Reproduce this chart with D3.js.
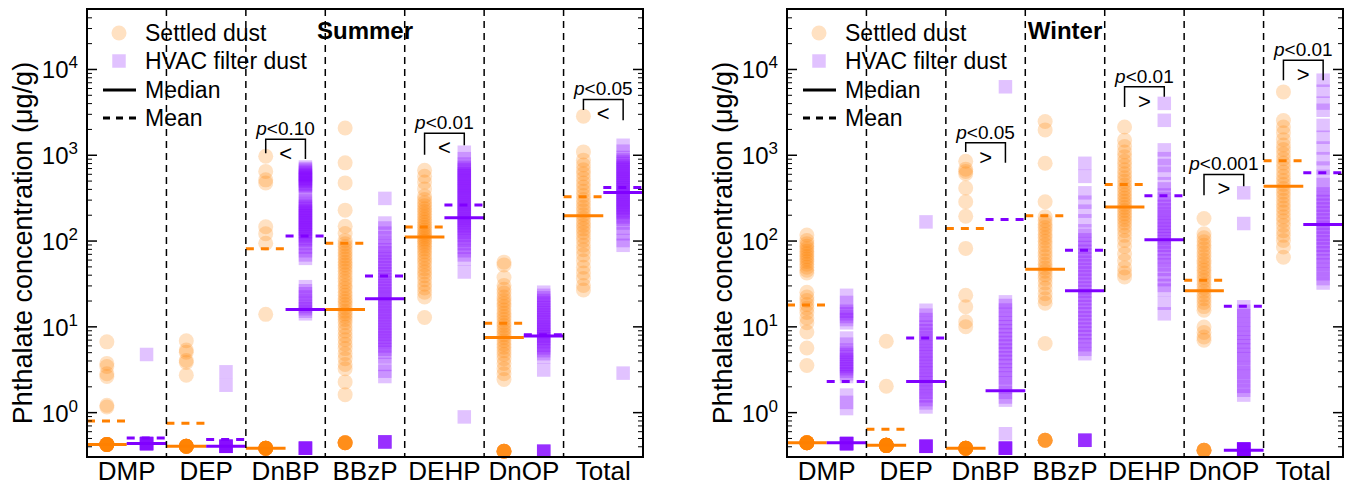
<!DOCTYPE html>
<html>
<head>
<meta charset="utf-8">
<script src="https://cdn.jsdelivr.net/npm/d3@7"></script>
<style>
  body { margin: 0; background: #fff; }
  text { font-family: "Liberation Sans", Arial, sans-serif; }
</style>
</head>
<body>
<div id="chart"></div>
<script>
// Phthalates in settled dust vs HVAC filter dust, summer and winter
const compounds = ["DMP", "DEP", "DnBP", "BBzP", "DEHP", "DnOP", "Total"];
const majorTicks = [1, 10, 100, 1000, 10000];

// detected concentrations (ug/g), one list per compound in the order above
const summerSettled = [
  [6.6, 3.7, 3.4, 2.8, 2.6, 1.2, 1.15],
  [6.8, 5.3, 5.0, 4.0, 3.8, 2.7],
  [960, 640, 510, 470, 145, 120, 93, 13.8],
  [2050, 805, 470, 226, 147, 121, 100, 92, 85, 78, 72, 66, 61, 56, 52, 48, 44, 40, 36, 33, 30, 27.5, 25, 23, 21, 19.5, 18, 16.5, 15, 14, 13, 12, 11, 9.8, 8.8, 7.8, 7.0, 6.2, 5.5, 4.8, 4.2, 3.6, 3.2, 2.25, 1.6],
  [661, 560, 480, 400, 330, 300, 275, 255, 235, 218, 202, 188, 175, 163, 152, 142, 133, 125, 118, 111, 104, 98, 92, 86, 80, 74, 68, 62, 57, 52, 47, 43, 39, 35, 31, 28, 25, 22, 12.7],
  [56, 52, 37, 30, 27, 24.5, 22, 20, 18.5, 17, 15.5, 14.2, 13, 12, 11, 10.2, 9.4, 8.7, 8, 7.4, 6.8, 6.2, 5.7, 5.2, 4.7, 4.2, 3.7, 3.2, 2.8, 2.4],
  [2820, 1080, 865, 760, 670, 600, 530, 470, 420, 375, 335, 300, 270, 245, 222, 200, 182, 165, 150, 137, 124, 112, 100, 88, 78, 68, 58, 49, 42, 36, 30, 26.5]
];
const summerHvac = [
  [4.7],
  [2.95, 2.06],
  [720, 690, 665, 640, 615, 590, 570, 550, 530, 510, 490, 470, 455, 440, 425, 380, 330, 290, 270, 258, 246, 235, 224, 214, 204, 195, 186, 178, 170, 162, 155, 148, 141, 135, 129, 123, 117, 111, 105, 100, 92, 84, 76, 68, 62, 29, 26, 24, 22, 20, 18.5, 17, 16, 15, 14],
  [310, 160, 140, 122, 108, 96, 86, 78, 72, 66, 61, 56, 52, 48, 44, 41, 38, 35, 32.5, 30, 28, 26, 24, 22.5, 21, 19.5, 18, 16.8, 15.6, 14.5, 13.5, 12.5, 11.6, 10.8, 10, 9.3, 8.6, 8, 7.4, 6.9, 6.4, 5.9, 5.4, 5.0, 4.4, 3.6, 3.0, 2.6],
  [1070, 900, 780, 740, 700, 665, 630, 600, 570, 540, 515, 490, 465, 440, 420, 400, 380, 360, 342, 325, 308, 292, 278, 264, 250, 238, 226, 214, 203, 193, 183, 174, 165, 156, 148, 140, 132, 124, 116, 108, 100, 92, 84, 76, 68, 61, 43, 0.88],
  [25, 23, 21.5, 20, 18.7, 17.5, 16.4, 15.4, 14.5, 13.6, 12.8, 12, 11.3, 10.6, 10, 9.5, 9, 8.5, 8, 7.6, 7.2, 6.8, 6.4, 6, 5.6, 5.2, 4.8, 4.4, 3.1],
  [1290, 1100, 930, 880, 835, 790, 750, 710, 675, 640, 610, 580, 550, 525, 500, 475, 452, 430, 410, 390, 370, 352, 335, 318, 302, 288, 274, 260, 247, 235, 223, 212, 200, 188, 176, 160, 140, 120, 100, 88, 2.85]
];
const winterSettled = [
  [116, 100, 92, 86, 80, 75, 70, 65, 61, 57, 53, 49, 45, 42, 25, 22, 20, 18, 16.3, 14.5, 12.5, 11, 8.6, 5.6, 3.5],
  [6.7, 2.0],
  [840, 680, 640, 600, 410, 283, 192, 81, 23, 16.9, 11.3, 9.9],
  [2440, 1950, 795, 283, 189, 170, 155, 142, 130, 118, 108, 98, 89, 80, 72, 65, 58, 53, 48, 44, 40, 36, 32, 28, 24, 21, 18.6, 6.3],
  [2110, 1480, 1250, 1080, 950, 840, 750, 670, 600, 540, 490, 445, 405, 370, 340, 312, 287, 264, 243, 224, 206, 190, 175, 160, 145, 130, 115, 100, 85, 70, 58, 48, 42, 37.7],
  [181, 120, 108, 97, 88, 80, 72, 65, 59, 54, 49, 45, 41, 37, 34, 31, 28, 25.5, 23, 21, 19, 17, 15.4, 9.8, 8.5, 7.5, 6.9],
  [5400, 2500, 2100, 1800, 1500, 1300, 1150, 1020, 900, 800, 710, 630, 560, 500, 450, 405, 365, 330, 295, 265, 240, 215, 190, 170, 150, 130, 115, 100, 84, 64]
];
const winterHvac = [
  [23, 19, 16, 15, 14, 13, 12, 11, 7.3, 6.2, 5.3, 5.0, 4.7, 4.4, 4.1, 3.8, 3.6, 3.4, 3.2, 3.0, 2.8, 2.6, 1.58, 1.3, 1.1],
  [165, 15.4, 13.5, 12, 10.8, 9.8, 8.9, 8.1, 7.4, 6.8, 6.2, 5.7, 5.2, 4.8, 4.4, 4.0, 3.7, 3.4, 3.1, 2.85, 2.6, 2.4, 2.2, 2.0, 1.85, 1.7, 1.55, 1.4, 1.28, 1.15],
  [6200, 19.3, 17.5, 15.5, 13.8, 12.3, 11, 9.9, 8.9, 8, 7.2, 6.5, 5.9, 5.3, 4.8, 4.3, 3.9, 3.5, 3.1, 2.8, 2.5, 2.2, 1.95, 1.7, 1.5, 1.38, 0.56],
  [795, 560, 360, 280, 220, 170, 130, 115, 102, 92, 83, 75, 68, 62, 56, 51, 46, 42, 38, 34.5, 31, 28, 25.5, 23, 21, 19, 17, 15.4, 14, 12.6, 11.4, 10.3, 9.3, 8.4, 7.6, 6.8, 6.1, 5.4, 4.8],
  [3970, 2520, 1140, 900, 750, 610, 460, 400, 340, 305, 275, 250, 228, 208, 190, 174, 160, 147, 135, 124, 114, 105, 96, 88, 80, 72, 65, 58, 52, 46, 40, 35, 30, 26.5, 18.6, 14],
  [360, 158, 16.9, 15, 13.3, 11.8, 10.5, 9.3, 8.3, 7.4, 6.6, 5.9, 5.3, 4.7, 4.2, 3.7, 3.3, 2.9, 2.6, 2.3, 2.0, 1.8, 1.58],
  [7400, 5500, 4000, 3300, 2200, 1600, 1200, 900, 700, 560, 450, 390, 350, 315, 285, 258, 234, 212, 192, 174, 158, 143, 130, 118, 107, 97, 88, 80, 72, 65, 58, 52, 46, 41, 36, 32]
];

// samples below detection, plotted at the LOD (count, then LOD value)
const summerSettledND = [14, 14, 14, 8, 0, 8, 0];
const summerHvacND = [10, 10, 8, 6, 0, 6, 0];
const winterSettledND = [14, 20, 14, 6, 0, 6, 0];
const winterHvacND = [10, 8, 8, 6, 0, 14, 0];
const summerSettledLOD = [0.42, 0.40, 0.38, 0.44, null, 0.35, null];
const summerHvacLOD = [0.43, 0.40, 0.38, 0.45, null, 0.35, null];
const winterSettledLOD = [0.44, 0.41, 0.38, 0.47, null, 0.36, null];
const winterHvacLOD = [0.43, 0.40, 0.38, 0.47, null, 0.37, null];

// medians and means
const summerSettledMedian = [0.42, 0.40, 0.38, 15.7, 110, 7.4, 195];
const summerHvacMedian = [0.43, 0.40, 15.7, 21, 184, 7.7, 363];
const summerSettledMean = [0.79, 0.74, 80, 93, 144, 10.9, 325];
const summerHvacMean = [0.50, 0.48, 113, 38.5, 260, 8.0, 416];
const winterSettledMedian = [0.44, 0.41, 0.38, 46.4, 246, 26, 430];
const winterHvacMedian = [0.44, 2.28, 1.77, 26, 102, 0.36, 154];
const winterSettledMean = [17.7, 0.63, 138, 194, 450, 34.5, 850];
const winterHvacMean = [2.28, 7.3, 176, 77, 332, 17.2, 615];

// tests: compound, label, sign, bracket top, left leg end, right leg end (ug/g)
const summerTests = [
  ["DnBP", "<0.10", "<", 1520, 1040, 890],
  ["DEHP", "<0.01", "<", 1780, 1000, 1290],
  ["Total", "<0.05", "<", 4420, 3320, 2520]
];
const winterTests = [
  ["DnBP", "<0.05", ">", 1380, 1080, 805],
  ["DEHP", "<0.01", ">", 6200, 3610, 4730],
  ["DnOP", "<0.001", ">", 590, 337, 430],
  ["Total", "<0.01", ">", 12600, 7400, 7400]
];

const orange = "#ff8000";
const purple = "#8000ff";
const alpha = 0.24;

const svg = d3.select("#chart").append("svg")
  .attr("width", 1346)
  .attr("height", 491);

class SeasonPanel {

  constructor(svg, cfg) {
    this.svg = svg;
    this.cfg = cfg;
    this.initVis();
  }

  initVis() {
    let vis = this;
    vis.left = vis.cfg.left;
    vis.right = vis.cfg.left + 556;
    vis.top = 9;
    vis.bottom = 457;

    vis.y = d3.scaleLog().domain([0.3, 5e4]).range([vis.bottom, vis.top]);
    vis.x = d3.scaleBand().domain(compounds).range([vis.left, vis.right]);
    vis.bw = vis.x.bandwidth();

    vis.g = vis.svg.append("g");

    vis.drawPoints();
    vis.drawStats();
    vis.drawFrame();
    vis.drawTests();
    vis.drawLegend();
  }

  drawPoints() {
    let vis = this;
    let cfg = vis.cfg;

    let settled = [], hvac = [];
    compounds.forEach((c, i) => {
      cfg.settled[i].forEach(v => settled.push({c, v}));
      d3.range(cfg.settledND[i]).forEach(() => settled.push({c, v: cfg.settledLOD[i]}));
      cfg.hvac[i].forEach(v => hvac.push({c, v}));
      d3.range(cfg.hvacND[i]).forEach(() => hvac.push({c, v: cfg.hvacLOD[i]}));
    });

    vis.g.append("g").selectAll("circle")
      .data(settled)
      .join("circle")
      .attr("cx", d => vis.x(d.c) + vis.bw * 0.25)
      .attr("cy", d => vis.y(d.v))
      .attr("r", 7.5)
      .attr("fill", orange)
      .attr("fill-opacity", alpha);

    vis.g.append("g").selectAll("rect")
      .data(hvac)
      .join("rect")
      .attr("x", d => vis.x(d.c) + vis.bw * 0.75 - 6.75)
      .attr("y", d => vis.y(d.v) - 6.75)
      .attr("width", 13.5)
      .attr("height", 13.5)
      .attr("fill", purple)
      .attr("fill-opacity", alpha);
  }

  drawStats() {
    let vis = this;
    let cfg = vis.cfg;

    // settled on the left half of each band, HVAC on the right half
    let lines = [];
    compounds.forEach((c, i) => {
      lines.push({c, side: 0, v: cfg.settledMedian[i], color: orange, dash: null});
      lines.push({c, side: 1, v: cfg.hvacMedian[i], color: purple, dash: null});
      lines.push({c, side: 0, v: cfg.settledMean[i], color: orange, dash: "8,7"});
      lines.push({c, side: 1, v: cfg.hvacMean[i], color: purple, dash: "8,7"});
    });

    vis.g.append("g").selectAll("line")
      .data(lines)
      .join("line")
      .attr("x1", d => vis.x(d.c) + d.side * vis.bw / 2)
      .attr("x2", d => vis.x(d.c) + (d.side + 1) * vis.bw / 2)
      .attr("y1", d => vis.y(d.v))
      .attr("y2", d => vis.y(d.v))
      .attr("stroke", d => d.color)
      .attr("stroke-width", 3)
      .attr("stroke-dasharray", d => d.dash);
  }

  drawFrame() {
    let vis = this;

    // dashed dividers between compounds
    vis.g.append("g").selectAll("line")
      .data(compounds.slice(1))
      .join("line")
      .attr("x1", d => vis.x(d))
      .attr("x2", d => vis.x(d))
      .attr("y1", vis.top)
      .attr("y2", vis.bottom)
      .attr("stroke", "#000")
      .attr("stroke-width", 1.5)
      .attr("stroke-dasharray", "7,5");

    let minorTicks = [];
    d3.range(-1, 5).forEach(k => {
      d3.range(2, 10).forEach(m => {
        let v = m * Math.pow(10, k);
        if (v >= 0.3 && v <= 5e4) minorTicks.push(v);
      });
    });

    let leftAxis = vis.g.append("g")
      .attr("transform", `translate(${vis.left},0)`)
      .call(d3.axisLeft(vis.y).tickValues(majorTicks).tickSize(-10).tickPadding(9).tickFormat(""))
      .call(g => g.select(".domain").remove());

    leftAxis.selectAll(".tick line").attr("stroke-width", 1.5);
    leftAxis.selectAll(".tick text")
      .attr("font-family", "Liberation Sans, Arial, sans-serif")
      .attr("font-size", 24)
      .attr("fill", "#000")
      .attr("dy", 9)
      .each(function(d) {
        let t = d3.select(this);
        t.append("tspan").text("10");
        t.append("tspan").attr("font-size", 17).attr("dy", -10).text(Math.round(Math.log10(d)));
      });

    vis.g.append("g")
      .attr("transform", `translate(${vis.left},0)`)
      .call(d3.axisLeft(vis.y).tickValues(minorTicks).tickSize(-5).tickFormat(""))
      .call(g => g.select(".domain").remove());

    vis.g.append("g")
      .attr("transform", `translate(${vis.right},0)`)
      .call(d3.axisRight(vis.y).tickValues(majorTicks).tickSize(-10).tickFormat(""))
      .call(g => g.select(".domain").remove())
      .selectAll(".tick line").attr("stroke-width", 1.5);

    vis.g.append("g")
      .attr("transform", `translate(${vis.right},0)`)
      .call(d3.axisRight(vis.y).tickValues(minorTicks).tickSize(-5).tickFormat(""))
      .call(g => g.select(".domain").remove());

    vis.g.append("rect")
      .attr("x", vis.left)
      .attr("y", vis.top)
      .attr("width", vis.right - vis.left)
      .attr("height", vis.bottom - vis.top)
      .attr("fill", "none")
      .attr("stroke", "#000")
      .attr("stroke-width", 2);

    // compound labels
    vis.g.append("g").selectAll("text")
      .data(compounds)
      .join("text")
      .attr("x", d => vis.x(d) + vis.bw / 2)
      .attr("y", 480)
      .attr("text-anchor", "middle")
      .attr("font-size", 26)
      .text(d => d);

    vis.g.append("text")
      .attr("transform", `translate(${vis.left - 55},${243}) rotate(-90)`)
      .attr("text-anchor", "middle")
      .attr("font-size", 27)
      .text("Phthalate concentration (\u03bcg/g)");

    vis.g.append("text")
      .attr("x", (vis.left + vis.right) / 2)
      .attr("y", 39)
      .attr("text-anchor", "middle")
      .attr("font-size", 24)
      .attr("font-weight", "bold")
      .text(vis.cfg.season);
  }

  drawTests() {
    let vis = this;

    let tests = vis.g.append("g").selectAll("g")
      .data(vis.cfg.tests)
      .join("g");

    tests.append("path")
      .attr("d", d => {
        let x1 = vis.x(d[0]) + vis.bw * 0.25, x2 = vis.x(d[0]) + vis.bw * 0.75;
        return `M${x1},${vis.y(d[4])}V${vis.y(d[3])}H${x2}V${vis.y(d[5])}`;
      })
      .attr("fill", "none")
      .attr("stroke", "#000")
      .attr("stroke-width", 1.5);

    let label = tests.append("text")
      .attr("x", d => vis.x(d[0]) + vis.bw / 2)
      .attr("y", d => vis.y(d[3]) - 4)
      .attr("text-anchor", "middle")
      .attr("font-size", 19);
    label.append("tspan").attr("font-style", "italic").text("p");
    label.append("tspan").text(d => d[1]);

    tests.append("text")
      .attr("x", d => vis.x(d[0]) + vis.bw / 2)
      .attr("y", d => vis.y(d[3]) + 22)
      .attr("text-anchor", "middle")
      .attr("font-size", 22)
      .text(d => d[2]);
  }

  drawLegend() {
    let vis = this;
    let lx = vis.left;
    let rows = [33, 61, 90, 118];
    let labels = ["Settled dust", "HVAC filter dust", "Median", "Mean"];

    let lg = vis.g.append("g");
    lg.append("circle")
      .attr("cx", lx + 32).attr("cy", rows[0]).attr("r", 7.5)
      .attr("fill", orange).attr("fill-opacity", alpha);
    lg.append("rect")
      .attr("x", lx + 32 - 6.75).attr("y", rows[1] - 6.75)
      .attr("width", 13.5).attr("height", 13.5)
      .attr("fill", purple).attr("fill-opacity", alpha);
    lg.append("line")
      .attr("x1", lx + 16).attr("x2", lx + 49).attr("y1", rows[2]).attr("y2", rows[2])
      .attr("stroke", "#000").attr("stroke-width", 3);
    lg.append("line")
      .attr("x1", lx + 16).attr("x2", lx + 49).attr("y1", rows[3]).attr("y2", rows[3])
      .attr("stroke", "#000").attr("stroke-width", 3).attr("stroke-dasharray", "7,6");

    lg.selectAll("text")
      .data(labels)
      .join("text")
      .attr("x", lx + 58)
      .attr("y", (d, i) => rows[i] + 8)
      .attr("font-size", 23)
      .text(d => d);
  }
}

new SeasonPanel(svg, {
  season: "Summer", left: 87,
  settled: summerSettled, hvac: summerHvac,
  settledND: summerSettledND, hvacND: summerHvacND,
  settledLOD: summerSettledLOD, hvacLOD: summerHvacLOD,
  settledMedian: summerSettledMedian, hvacMedian: summerHvacMedian,
  settledMean: summerSettledMean, hvacMean: summerHvacMean,
  tests: summerTests
});

new SeasonPanel(svg, {
  season: "Winter", left: 787,
  settled: winterSettled, hvac: winterHvac,
  settledND: winterSettledND, hvacND: winterHvacND,
  settledLOD: winterSettledLOD, hvacLOD: winterHvacLOD,
  settledMedian: winterSettledMedian, hvacMedian: winterHvacMedian,
  settledMean: winterSettledMean, hvacMean: winterHvacMean,
  tests: winterTests
});
</script>
</body>
</html>
